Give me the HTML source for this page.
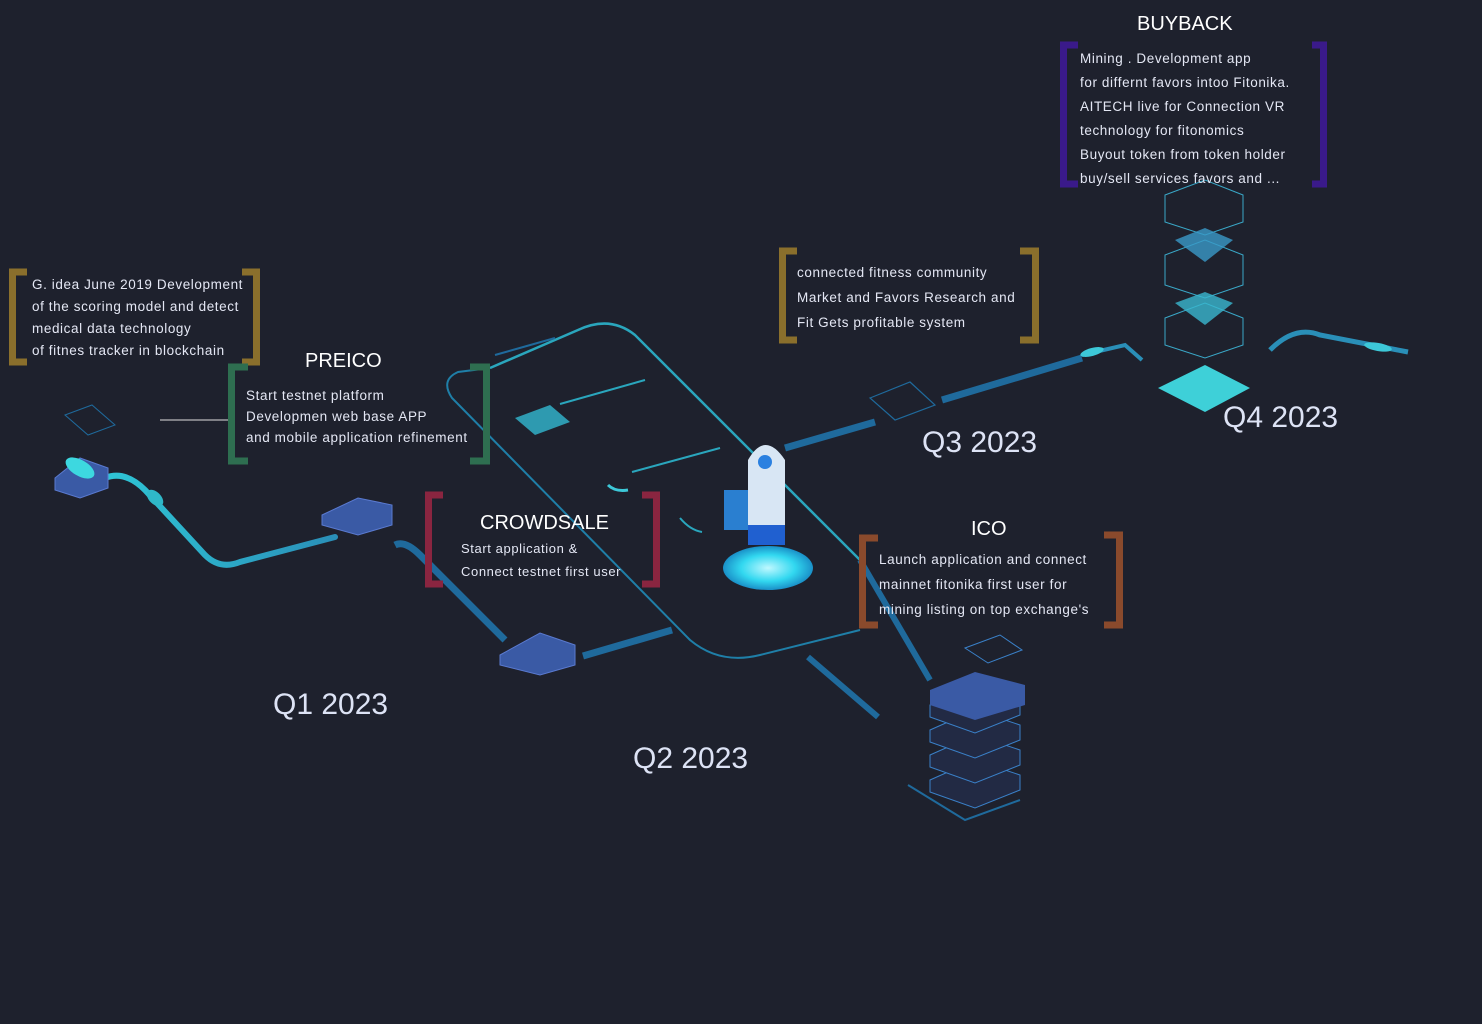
<!DOCTYPE html>
<html><head><meta charset="utf-8"><style>
html,body{margin:0;padding:0;background:#1e212d;}
#c{position:relative;width:1482px;height:1024px;overflow:hidden;background:#1e212d;font-family:"Liberation Sans",sans-serif;}
.t{position:absolute;color:#e4e7f4;font-size:13.5px;letter-spacing:0.6px;white-space:nowrap;}
.h{position:absolute;color:#ffffff;font-size:20px;white-space:nowrap;}
.q{position:absolute;color:#dde3f5;font-size:30px;white-space:nowrap;}
svg{position:absolute;left:0;top:0;}
</style></head><body><div id="c">
<svg width="1482" height="1024" viewBox="0 0 1482 1024">
<defs>
<linearGradient id="cy" x1="0" x2="1"><stop offset="0" stop-color="#2fc6d6"/><stop offset="1" stop-color="#2a8fb8"/></linearGradient>
<radialGradient id="cl"><stop offset="0" stop-color="#bff8ff"/><stop offset="0.6" stop-color="#32d8f0"/><stop offset="1" stop-color="#1a90c8"/></radialGradient>
</defs>
<path d="M490 368 L578 330 Q610 315 635 335 L862 562" fill="none" stroke="#2aa6bd" stroke-width="2.5"/>
<path d="M490 368 L458 372 Q440 380 452 398 L690 640 Q720 665 760 655 L860 630" fill="none" stroke="#1f7fa8" stroke-width="2"/>
<line x1="560" y1="404" x2="645" y2="380" stroke="#2aa6bd" stroke-width="2"/>
<line x1="632" y1="472" x2="720" y2="448" stroke="#2aa6bd" stroke-width="2"/>
<polygon points="515,418 550,405 570,422 535,435" fill="#2e9ab0"/>
<path d="M680 518 Q690 530 702 532" fill="none" stroke="#2aa6bd" stroke-width="2"/>
<path d="M608 485 Q615 492 628 490" fill="none" stroke="#3dc8d8" stroke-width="3"/>
<line x1="495" y1="355" x2="555" y2="338" stroke="#1f6a9c" stroke-width="2"/>
<path d="M105 478 Q125 470 145 490 L205 555 Q220 570 240 562 L335 537" fill="none" stroke="url(#cy)" stroke-width="6" stroke-linecap="round"/>
<ellipse cx="155" cy="498" rx="10" ry="6" fill="#2fb8c8" transform="rotate(45 155 498)"/>
<line x1="160" y1="420" x2="228" y2="420" stroke="#e0e0e0" stroke-width="1"/>
<path d="M395 545 Q405 540 420 555 L505 640" fill="none" stroke="#1f6a9c" stroke-width="7"/>
<line x1="583" y1="656" x2="672" y2="630" stroke="#1f6a9c" stroke-width="7"/>
<line x1="860" y1="560" x2="930" y2="680" stroke="#1f6a9c" stroke-width="6"/>
<line x1="808" y1="657" x2="878" y2="717" stroke="#1f6a9c" stroke-width="6"/>
<line x1="785" y1="448" x2="875" y2="422" stroke="#1f6a9c" stroke-width="7"/>
<line x1="942" y1="400" x2="1082" y2="358" stroke="#1f6a9c" stroke-width="7"/>
<path d="M1082 355 L1125 345 L1142 360" fill="none" stroke="#2a8fb8" stroke-width="4"/>
<ellipse cx="1092" cy="352" rx="12" ry="4" fill="#3dc8d8" transform="rotate(-15 1092 352)"/>
<path d="M870 398 L910 382 L935 405 L895 420 Z" fill="none" stroke="#1f6a9c" stroke-width="1.2"/>
<path d="M1270 350 Q1295 325 1320 335 L1408 352" fill="none" stroke="#2a8fb8" stroke-width="5"/>
<ellipse cx="1378" cy="347" rx="14" ry="4" fill="#3dc8d8" transform="rotate(10 1378 347)"/>
<g fill="#3a5aa5" stroke="#5a7ad0" stroke-width="1">
<polygon points="55,478 80,458 108,468 108,488 80,498 55,490"/>
<polygon points="322,515 358,498 392,505 392,525 358,535 322,525"/>
<polygon points="500,655 540,633 575,645 575,665 540,675 500,665"/>
</g>
<ellipse cx="80" cy="468" rx="16" ry="8" fill="#3dd8e0" transform="rotate(30 80 468)"/>
<path d="M65 415 L92 405 L115 425 L88 435 Z" fill="none" stroke="#1f6a9c" stroke-width="1"/>
<ellipse cx="768" cy="568" rx="45" ry="22" fill="url(#cl)"/>
<rect x="724" y="490" width="25" height="40" fill="#2a7fd0"/>
<path d="M748 540 L748 460 Q765 430 785 460 L785 540 Z" fill="#d8e6f4"/>
<rect x="748" y="525" width="37" height="20" fill="#2060d0"/>
<circle cx="765" cy="462" r="7" fill="#2a80e0"/>
<g stroke="#3aa8c8" stroke-width="1" fill="none">
<path d="M1165 195 L1205 180 L1243 195 L1243 222 L1205 235 L1165 222 Z"/>
<path d="M1165 255 L1205 240 L1243 255 L1243 285 L1205 298 L1165 285 Z"/>
<path d="M1165 318 L1205 303 L1243 318 L1243 345 L1205 358 L1165 345 Z"/>
</g>
<polygon points="1175,240 1205,228 1233,240 1205,262" fill="#3a9ac8" opacity="0.8"/>
<polygon points="1175,303 1205,292 1233,303 1205,325" fill="#3ab8d0" opacity="0.8"/>
<polygon points="1158,388 1205,365 1250,388 1205,412" fill="#3ed0d8"/>
<g stroke="#3a80c8" stroke-width="1" fill="#222a44">
<path d="M930 780 L975 760 L1020 775 L1020 790 L975 808 L930 792 Z"/>
<path d="M930 755 L975 735 L1020 750 L1020 765 L975 783 L930 767 Z"/>
<path d="M930 730 L975 710 L1020 725 L1020 740 L975 758 L930 742 Z"/>
<path d="M930 705 L975 685 L1020 700 L1020 715 L975 733 L930 717 Z"/>
</g>
<polygon points="930,690 975,672 1025,685 1025,705 975,720 930,705" fill="#3a5aa5"/>
<path d="M965 648 L1000 635 L1022 650 L988 663 Z" fill="none" stroke="#3a80c8"/>
<path d="M908 785 L965 820 L1020 800" fill="none" stroke="#1f6a9c" stroke-width="2"/>
<g fill="none" stroke-width="7">
<path d="M27 272 L12.5 272 L12.5 362 L27 362" stroke="#8a6f2c"/>
<path d="M242 272 L256.5 272 L256.5 362 L242 362" stroke="#8a6f2c"/>
<path d="M248 367 L231.5 367 L231.5 461 L248 461" stroke="#2e6e50"/>
<path d="M470 367 L486.5 367 L486.5 461 L470 461" stroke="#2e6e50"/>
<path d="M443 495 L428.5 495 L428.5 584 L443 584" stroke="#8a2540"/>
<path d="M642 495 L656.5 495 L656.5 584 L642 584" stroke="#8a2540"/>
<path d="M797 251 L782.5 251 L782.5 340 L797 340" stroke="#8a6f2c"/>
<path d="M1020 251 L1035.5 251 L1035.5 340 L1020 340" stroke="#8a6f2c"/>
<path d="M878 538 L862.5 538 L862.5 625 L878 625" stroke="#8a4a2c"/>
<path d="M1104 535 L1119.5 535 L1119.5 625 L1104 625" stroke="#8a4a2c"/>
<path d="M1078 45 L1063.5 45 L1063.5 184 L1078 184" stroke="#3a1a8a"/>
<path d="M1312 45 L1323.5 45 L1323.5 184 L1312 184" stroke="#3a1a8a"/>
</g>
</svg>
<div class="t" style="left:32px;top:274px;line-height:22px">G. idea June 2019 Development<br>of the scoring model and detect<br>medical data technology<br>of fitnes tracker in blockchain</div>
<div class="h" style="left:305px;top:350px">PREICO</div>
<div class="t" style="left:246px;top:385px;line-height:21px">Start testnet platform<br>Developmen web base APP<br>and mobile application refinement</div>
<div class="h" style="left:480px;top:512px">CROWDSALE</div>
<div class="t" style="left:461px;top:537px;line-height:23px;font-size:13px">Start application &amp;<br>Connect testnet first user</div>
<div class="t" style="left:797px;top:260px;line-height:25px">connected fitness community<br>Market and Favors Research and<br>Fit Gets profitable system</div>
<div class="h" style="left:971px;top:518px">ICO</div>
<div class="t" style="left:879px;top:547px;line-height:25px">Launch application and connect<br>mainnet fitonika first user for<br>mining listing on top exchange's</div>
<div class="h" style="left:1137px;top:13px">BUYBACK</div>
<div class="t" style="left:1080px;top:47px;line-height:24px">Mining . Development app<br>for differnt favors intoo Fitonika.<br>AITECH live for Connection VR<br>technology for fitonomics<br>Buyout token from token holder<br>buy/sell services favors and ...</div>
<div class="q" style="left:273px;top:688px">Q1 2023</div>
<div class="q" style="left:633px;top:742px">Q2 2023</div>
<div class="q" style="left:922px;top:426px">Q3 2023</div>
<div class="q" style="left:1223px;top:401px">Q4 2023</div>
</div></body></html>
